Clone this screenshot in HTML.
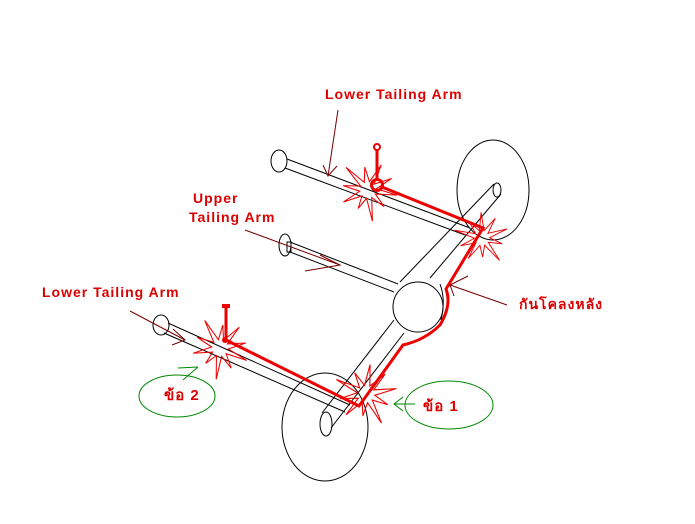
<!DOCTYPE html>
<html><head><meta charset="utf-8"><style>
html,body{margin:0;padding:0;background:#fff;}
svg{display:block}
text{font-family:"Liberation Sans","Noto Sans CJK SC",sans-serif;font-weight:bold;}
</style></head><body>
<svg width="695" height="524" viewBox="0 0 695 524" xmlns="http://www.w3.org/2000/svg">
<defs>
<polygon id="star" points="28,0 7.6,2.5 17.8,12.9 4.7,6.5 9.3,28.5 0,8 -6.2,19 -4.7,6.5 -21,15.3 -7.6,2.5 -24,0 -7.6,-2.5 -24.3,-17.6 -4.7,-6.5 -6.8,-20.9 0,-8 8.3,-25.7 4.7,-6.5 20.2,-14.7 7.6,-2.5"/>
</defs>
<rect width="695" height="524" fill="#fff"/>
<g fill="none" stroke="#000" stroke-width="1">
  <ellipse cx="493" cy="190" rx="36" ry="50"/>
  <ellipse cx="497" cy="190" rx="4" ry="7"/>
  <ellipse cx="325" cy="427" rx="43" ry="54"/>
  <ellipse cx="326" cy="424" rx="6" ry="12"/>
  <line x1="494" y1="184" x2="400" y2="282"/>
  <line x1="501" y1="194" x2="430" y2="278"/>
  <line x1="394" y1="320" x2="322" y2="413"/>
  <line x1="404" y1="333" x2="331" y2="428"/>
  <circle cx="418" cy="307" r="25"/>
  <path d="M440 284 Q446 300 441 320" />
  <ellipse cx="279" cy="161" rx="8" ry="11"/>
  <line x1="287" y1="159" x2="470" y2="228"/>
  <line x1="285" y1="168" x2="465" y2="235"/>
  <ellipse cx="285" cy="245" rx="6" ry="11"/>
  <rect x="287" y="242" width="4" height="10"/>
  <line x1="290" y1="242" x2="398" y2="284"/>
  <line x1="290" y1="252" x2="394" y2="292"/>
  <ellipse cx="161" cy="325" rx="8" ry="10"/>
  <line x1="168" y1="323" x2="350" y2="405"/>
  <line x1="164" y1="333" x2="345" y2="412"/>
</g>
<g fill="none" stroke="#e00" stroke-width="1">
  <use href="#star" transform="translate(368,190) rotate(10) scale(1.05)"/>
  <use href="#star" transform="translate(482,238) rotate(-20) scale(0.95)"/>
  <use href="#star" transform="translate(220,348) rotate(25) scale(1.05)"/>
  <use href="#star" transform="translate(366,394) rotate(-10) scale(1.1)"/>
</g>
<g fill="none" stroke="#e00" stroke-width="3" stroke-linejoin="miter">
  <path d="M382 187 L483 228 L446 289 Q452 305 440 325 Q425 340 403 345 L359 406 L226 340"/>
  <line x1="377" y1="150" x2="377" y2="180"/>
  <circle cx="377" cy="185" r="5.5"/>
  <circle cx="377" cy="147" r="3" stroke-width="2"/>
  <line x1="226" y1="308" x2="226" y2="340"/>
</g>
<rect x="222" y="304" width="8" height="4" fill="#e00"/>
<circle cx="225" cy="340" r="3" fill="#e00"/>
<g stroke="#700" stroke-width="1" fill="none">
  <line x1="338" y1="110" x2="328" y2="176"/>
  <polyline points="323,165 328,176 337,166"/>
  <line x1="245" y1="230" x2="340" y2="265"/>
  <polyline points="320,255 340,265 305,271"/>
  <line x1="507" y1="305" x2="450" y2="285"/>
  <polyline points="468,276 450,285 454,296"/>
  <line x1="130" y1="311" x2="185" y2="340"/>
  <polyline points="173,329 185,340 172,345"/>
</g>
<g stroke="#080" fill="none" stroke-width="1">
  <ellipse cx="177" cy="396" rx="38" ry="21"/>
  <ellipse cx="449" cy="405" rx="44" ry="24"/>
  <line x1="178" y1="368" x2="198" y2="367"/>
  <polyline points="183,380 198,367"/>
  <line x1="394" y1="404" x2="415" y2="404"/>
  <polyline points="403,397 394,404 403,411"/>
</g>
<g fill="#d00" font-size="14" letter-spacing="1">
  <text x="325" y="99">Lower Tailing Arm</text>
  <text x="193" y="203">Upper</text>
  <text x="189" y="222">Tailing Arm</text>
  <text x="42" y="297">Lower Tailing Arm</text>
  <text x="519" y="309">กันโคลงหลัง</text>
  <text x="164" y="400" font-size="15">ข้อ 2</text>
  <text x="423" y="411" font-size="15">ข้อ 1</text>
</g>
</svg>
</body></html>
